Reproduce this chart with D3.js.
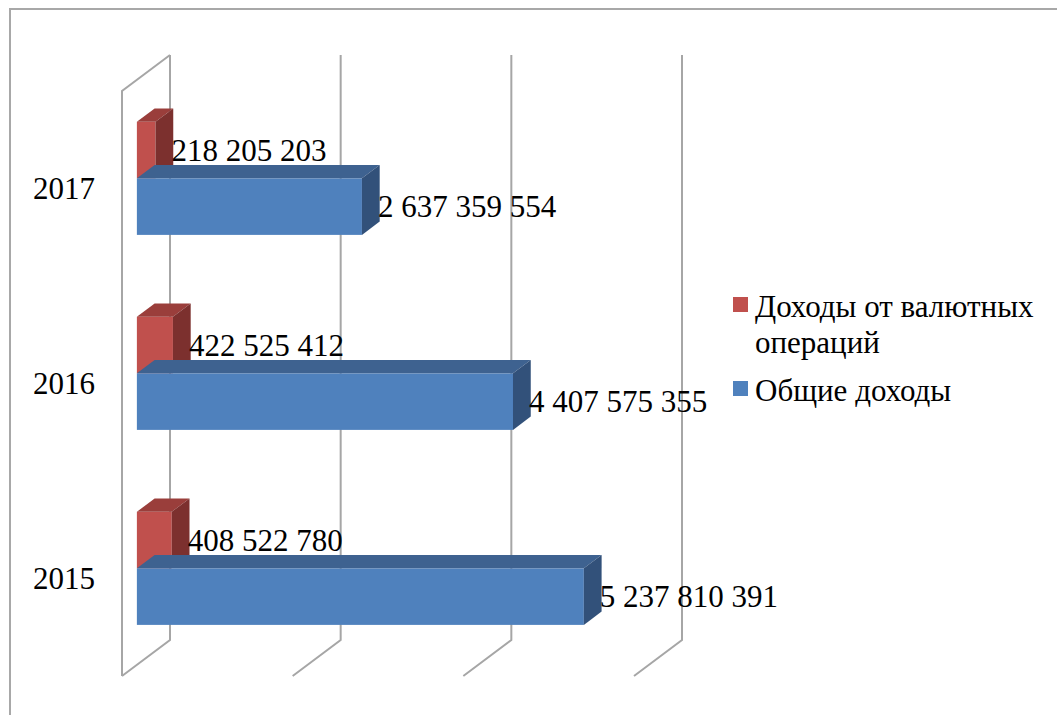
<!DOCTYPE html>
<html>
<head>
<meta charset="utf-8">
<script src="https://cdn.jsdelivr.net/npm/d3@7"></script>
<style>
  html, body { margin: 0; padding: 0; background: #fff; }
  svg { display: block; font-family: "Liberation Serif", "Times New Roman", serif; }
</style>
</head>
<body>
<svg id="chart"></svg>
<script>
// data
const years = ["2017", "2016", "2015"];
const seriesNames = ["Доходы от валютных операций", "Общие доходы"];
const currencyIncome = [218205203, 422525412, 408522780];
const totalIncome = [2637359554, 4407575355, 5237810391];
const gridValues = [0, 2000000000, 4000000000, 6000000000];

const width = 1057;
const height = 715;

const svg = d3.select("#chart")
  .attr("width", width)
  .attr("height", height);

// outer frame (runs off the right and bottom edges)
svg.append("rect")
  .attr("x", 10)
  .attr("y", 9)
  .attr("width", width + 20)
  .attr("height", height + 20)
  .attr("fill", "none")
  .attr("stroke", "#a8a8a8")
  .attr("stroke-width", 2);

// front plane of the 3d box
const plotLeft = 122;
const plotTop = 91;
const plotBottom = 676;
const depth = [48, -36];        // full depth offset of the walls
const z0 = 0.31, z1 = 0.68;     // bars sit between these depth fractions

const x = d3.scaleLinear()
  .domain([0, 6000000000])
  .range([plotLeft, plotLeft + 512]);

const yCat = d3.scaleBand()
  .domain(years)
  .range([plotTop + 1, plotBottom + 1])
  .paddingInner(0.42)
  .paddingOuter(0.21);

const ySer = d3.scaleBand()
  .domain([0, 1])
  .range([0, yCat.bandwidth()]);

const colors = [
  { front: "#c0504d", top: "#9a3e3b", side: "#7c302e" },
  { front: "#4f81bd", top: "#3e6290", side: "#32517a" }
];

const gridColor = "#a6a6a6";
const walls = svg.append("g").attr("fill", "none").attr("stroke", gridColor).attr("stroke-width", 2);

// back wall gridlines + floor diagonals
gridValues.forEach(v => {
  const bx = x(v) + depth[0];
  walls.append("path")
    .attr("d", `M${bx},${plotTop + depth[1]} L${bx},${plotBottom + depth[1]} L${x(v)},${plotBottom}`);
});

// left side wall
walls.append("path")
  .attr("d", `M${x(0) + depth[0]},${plotTop + depth[1]} L${x(0)},${plotTop} L${x(0)},${plotBottom}`);

// bars
const barsG = svg.append("g");
const shift = [z0 * depth[0], z0 * depth[1]];
const bd = [(z1 - z0) * depth[0], (z1 - z0) * depth[1]];

const bars = [];
years.forEach((yr, i) => {
  [currencyIncome[i], totalIncome[i]].forEach((v, s) => {
    const x0 = x(0) + shift[0];
    const x1 = x(v) + shift[0];
    const y0 = yCat(yr) + ySer(s) + shift[1];
    const y1 = y0 + ySer.bandwidth();
    bars.push({ v, s, x0, x1, y0, y1 });
  });
});

bars.forEach(b => {
  const c = colors[b.s];
  const g = barsG.append("g");
  g.append("rect")
    .attr("x", b.x0).attr("y", b.y0)
    .attr("width", b.x1 - b.x0).attr("height", b.y1 - b.y0)
    .attr("fill", c.front);
  g.append("path")
    .attr("d", `M${b.x0},${b.y0} L${b.x1},${b.y0} L${b.x1 + bd[0]},${b.y0 + bd[1]} L${b.x0 + bd[0]},${b.y0 + bd[1]} Z`)
    .attr("fill", c.top);
  g.append("path")
    .attr("d", `M${b.x1},${b.y0} L${b.x1},${b.y1} L${b.x1 + bd[0]},${b.y1 + bd[1]} L${b.x1 + bd[0]},${b.y0 + bd[1]} Z`)
    .attr("fill", c.side);
});

// value labels
const fmt = v => d3.format(",")(v).replace(/,/g, " ");
svg.append("g")
  .selectAll("text")
  .data(bars)
  .join("text")
  .attr("x", d => d.x1 + 16)
  .attr("y", d => (d.y0 + d.y1) / 2 + 10.5)
  .attr("font-size", 31)
  .attr("fill", "#000")
  .text(d => fmt(d.v));

// category axis
const yAxis = d3.axisLeft(yCat).tickSize(0).tickPadding(27);
svg.append("g")
  .attr("transform", `translate(${plotLeft},0)`)
  .call(yAxis)
  .call(g => g.select(".domain").remove())
  .selectAll("text")
  .attr("font-family", "Liberation Serif, Times New Roman, serif")
  .attr("font-size", 31)
  .attr("fill", "#000");

// legend
const legend = svg.append("g").attr("font-size", 31);
const legendItems = [
  { lines: ["Доходы от валютных", "операций"], y: 317 },
  { lines: ["Общие доходы"], y: 401 }
];
legendItems.forEach((it, i) => {
  legend.append("rect")
    .attr("x", 733).attr("y", it.y - 20)
    .attr("width", 15).attr("height", 15)
    .attr("fill", colors[i].front);
  const t = legend.append("text").attr("x", 755).attr("y", it.y);
  it.lines.forEach((l, j) => {
    t.append("tspan").attr("x", 755).attr("dy", j === 0 ? 0 : 36).text(l);
  });
});
</script>
</body>
</html>
